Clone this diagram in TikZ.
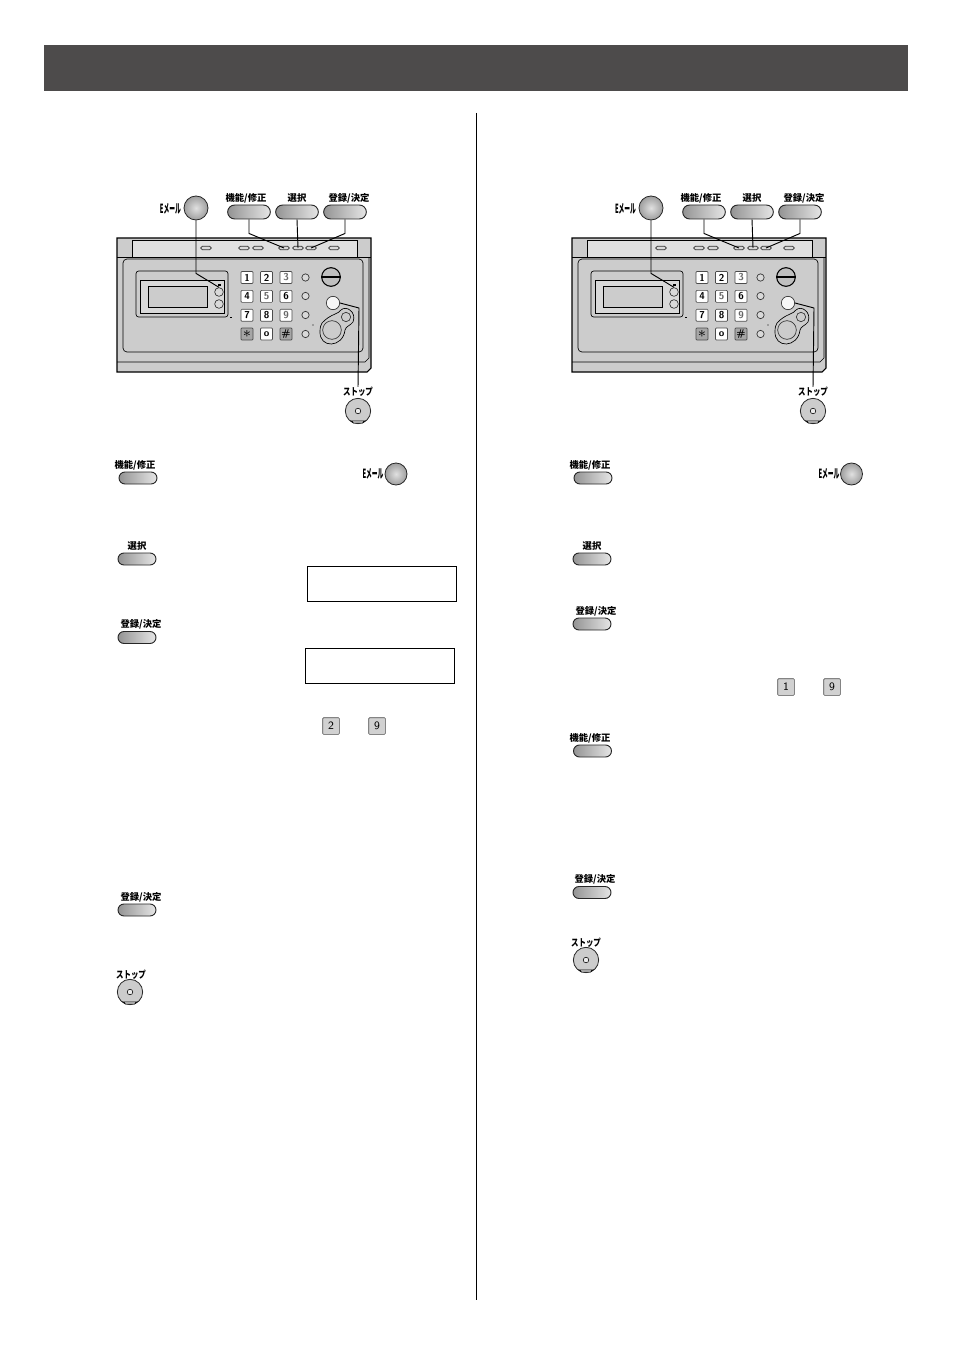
\documentclass[tikz,border=0pt]{standalone}
\usepackage{fontspec}
\setmainfont{Noto Sans CJK JP}
\usetikzlibrary{shapes.misc}
\definecolor{barcolor}{HTML}{4D4B4B}
\newcommand{\mailtext}{\scalebox{0.62}[1.35]{Eメール}}
\newcommand{\stoptext}{\scalebox{0.8}[1.05]{ストップ}}
\tikzset{
  keylabel/.style={inner sep=0pt, font=\fontsize{7}{8}\selectfont\bfseries},
  longkey/.style={draw=black!85, line width=0.7pt, rounded rectangle, inner sep=0pt, left color=black!42, right color=black!10, minimum width=28.5pt, minimum height=9pt},
  bigkey/.style={longkey, minimum width=32pt, minimum height=10.5pt},
  mailkey/.style={draw=black!85, line width=0.6pt, circle, inner sep=0pt, minimum size=16.5pt, shading=radial, inner color=black!12, outer color=black!38},
  numkey/.style={draw=black!70, line width=0.5pt, rounded corners=0.7pt, fill=white, inner sep=0pt, minimum size=9pt, font=\fontsize{7.5}{8}\selectfont\sffamily\bfseries},
  darkkey/.style={numkey, fill=black!35},
  bignum/.style={numkey, fill=black!18, minimum size=12.5pt, font=\fontsize{8.5}{9}\selectfont\sffamily},
  lamp/.style={draw=black!80, line width=0.5pt, circle, inner sep=0pt, minimum size=5.5pt, fill=black!15},
  slot/.style={draw=black!80, line width=0.5pt, rounded rectangle, inner sep=0pt, fill=black!15, minimum width=8pt, minimum height=2.6pt},
  wire/.style={line width=0.7pt, black},
  lcdbox/.style={draw=black, line width=0.7pt, inner sep=0pt, fill=white, minimum width=112pt, minimum height=26.2pt},
  stopface/.style={draw=black!85, line width=0.6pt, circle, inner sep=0pt, minimum size=19pt, fill=black!20},
  faxpanel/.pic={
    % top keys
    \node[keylabel] (maillabel) at (170.5,209) {\mailtext};
    \node[mailkey, minimum size=18pt] (mail) at (196,208) {};
    \node[keylabel] (funclabel) at (246,198) {機能/修正};
    \node[keylabel] (sellabel) at (297,198) {選択};
    \node[keylabel] (setlabel) at (349,198) {登録/決定};
    \node[bigkey] (func) at (249,212) {};
    \node[bigkey] (sel) at (297,212) {};
    \node[bigkey] (setk) at (345,212) {};
    % body
    \draw[line width=0.8pt, fill=black!20] (117,238) -- (371,238) -- (371,368) -- (367,372) -- (117,372) -- cycle;
    \draw[line width=0.5pt] (117,257) -- (371,257);
    \draw[line width=0.5pt, fill=black!12] (132,257) -- (132,240) -- (357,240) -- (357,257);
    \draw[line width=0.5pt, fill=black!20, rounded corners=3pt] (123,259) rectangle (363,352);
    \draw[line width=0.5pt] (369,257) -- (369,358) -- (365,362) -- (117,362);
    \foreach \x/\n in {206/a, 244/b, 258/c, 284/d, 298/e, 311/f, 334/g}
      \node[slot] (slot\n) at (\x,248) {};
    % display
    \draw[line width=0.5pt, rounded corners=2pt] (136,271) rectangle (228,317);
    \draw[line width=0.6pt, fill=black!15] (140,280) rectangle (224,313);
    \draw[line width=0.5pt, fill=black!20] (148,286) rectangle (207,307);
    \node[lamp, minimum size=6.5pt] (dispa) at (219,292) {};
    \node[lamp, minimum size=6.5pt] (dispb) at (219,304) {};
    \fill (217.5,284) rectangle (220.5,286);
    \fill (230,317) rectangle (232,318);
    % keypad
    \foreach \t [count=\i from 0] in {1,2,\textcolor{black!60}{3},4,\textcolor{black!60}{5},6,7,8,\textcolor{black!60}{9}} {
      \pgfmathsetmacro{\kx}{247+19.5*mod(\i,3)}
      \pgfmathsetmacro{\ky}{277.5+18.9*int(\i/3)}
      \node[numkey] (num\i) at (\kx,\ky) {\t};
    }
    \node[darkkey] (numstar) at (247,334) {\scalebox{1.6}{$\ast$}};
    \node[numkey] (numzero) at (266.5,334) {o};
    \node[darkkey] (numhash) at (286,334) {\#};
    \foreach \y/\n in {277.5/a, 296/b, 315/c, 334/d}
      \node[lamp] (side\n) at (305.5,\y) {};
    % dial and stop
    \node[draw, line width=0.8pt, circle, inner sep=0pt, minimum size=14pt, fill=black!25] (dial) at (331,277) {};
    \draw[line width=0.8pt] (dial.west) -- (dial.east);
    \node[lamp, minimum size=10pt, fill=black!3] (stoplamp) at (333,303) {};
    \fill (313,325) circle (0.7);
    \draw[line width=0.5pt] (322,323) .. controls (330,314) and (339,314) .. (341,310) .. controls (346,305) and (357,312) .. (353,322) .. controls (350,326) and (346,326) .. (345,330) .. controls (343,348) and (319,349) .. (320,331) .. controls (320,327) and (321,325) .. (322,323);
    \node[draw=black!80, line width=0.5pt, circle, inner sep=0pt, minimum size=14pt] (wheel) at (332,330) {};
    \node[draw=black!80, line width=0.5pt, circle, inner sep=0pt, minimum size=7pt] (wheelb) at (346,317) {};
    % stop key
    \node[keylabel] (stoplabel) at (358,392) {\stoptext};
    \pic (stopk) at (358,411) {stopbutton};
    % connectors
    \draw[wire] (mail.south) -- ++(0,53) -- (dispa.north);
    \draw[wire] (func.south) -- ++(0,14) -- (slotd.center);
    \draw[wire] (sel.south) -- (slote.center);
    \draw[wire] (setk.south) -- ++(0,14) -- (slotf.center);
    \draw[wire] (stoplamp.east) -- ++(19,5) -- (stoplabel.north);
  },
  stopbutton/.pic={
    \node[stopface] (face) at (0,0) {};
    \draw[line width=0.4pt, fill=black!8] (0,0) circle (2.8);
    \draw[line width=0.6pt, fill=white] (-7,10) -- (7,10) -- (4.5,12) -- (-4.5,12) -- cycle;
  }
}
\begin{document}
\begin{tikzpicture}[x=0.75pt, y=-0.75pt]
  \useasboundingbox (0,0) rectangle (954,1348);
  \node[fill=barcolor, minimum width=648pt, minimum height=34.5pt, inner sep=0pt] (bar) at (476,68) {};
  \coordinate (rulea) at (476.5,113);
  \coordinate (ruleb) at (476.5,1300);
  \draw[line width=0.7pt] (rulea) -- (ruleb);
  \pic (left) at (0,0) {faxpanel};
  \pic (right) at (455,0) {faxpanel};
  % left column
  \node[keylabel] (lfuncl) at (135,465) {機能/修正};
  \node[longkey] (lfunc) at (138,478) {};
  \node[keylabel] (lmaill) at (373,474) {\mailtext};
  \node[mailkey] (lmail) at (396,474) {};
  \node[keylabel] (lsell) at (137,546) {選択};
  \node[longkey] (lsel) at (137,559) {};
  \node[lcdbox] (lboxa) at (382,584) {};
  \node[keylabel] (lsetl) at (141,624) {登録/決定};
  \node[longkey] (lset) at (137,637.5) {};
  \node[lcdbox] (lboxb) at (380,666) {};
  \node[bignum] (lnuma) at (331,726) {2};
  \node[bignum] (lnumb) at (377,726) {9};
  \node[keylabel] (lsetbl) at (141,897) {登録/決定};
  \node[longkey] (lsetb) at (137,910) {};
  \node[keylabel] (lstopl) at (131,975) {\stoptext};
  \pic (lstop) at (130,992) {stopbutton};
  % right column
  \node[keylabel] (rfuncl) at (590,465) {機能/修正};
  \node[longkey] (rfunc) at (593,478) {};
  \node[keylabel] (rmaill) at (829,474) {\mailtext};
  \node[mailkey] (rmail) at (851.5,474) {};
  \node[keylabel] (rsell) at (592,546) {選択};
  \node[longkey] (rsel) at (592,559) {};
  \node[keylabel] (rsetl) at (596,611) {登録/決定};
  \node[longkey] (rset) at (592,624) {};
  \node[bignum] (rnuma) at (786,687) {1};
  \node[bignum] (rnumb) at (832,687) {9};
  \node[keylabel] (rfuncbl) at (590,738) {機能/修正};
  \node[longkey] (rfuncb) at (592.5,751) {};
  \node[keylabel] (rsetbl) at (595,879) {登録/決定};
  \node[longkey] (rsetb) at (592,892.5) {};
  \node[keylabel] (rstopl) at (586,943) {\stoptext};
  \pic (rstop) at (586,960) {stopbutton};
\end{tikzpicture}
\end{document}
